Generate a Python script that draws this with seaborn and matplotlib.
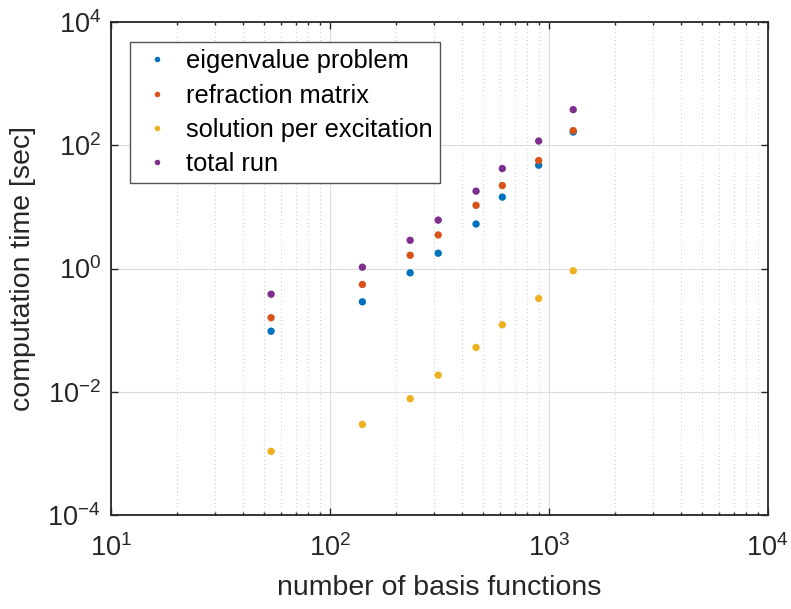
import matplotlib
matplotlib.use("Agg")
import matplotlib.pyplot as plt
import matplotlib.ticker as mticker
import seaborn as sns
import pandas as pd
import numpy as np

# ---- data ----
n_basis = [54, 141, 233, 313, 466, 614, 900, 1294]
eigenvalue = [0.096, 0.288, 0.85, 1.77, 5.27, 14.4, 47.5, 164]
refraction = [0.159, 0.55, 1.64, 3.5, 10.6, 22.2, 56.5, 173]
solution = [0.00108, 0.00295, 0.0077, 0.0186, 0.0524, 0.122, 0.326, 0.918]
total = [0.383, 1.05, 2.87, 6.1, 18.0, 41.9, 117, 378]

series_names = ["eigenvalue problem", "refraction matrix",
                "solution per excitation", "total run"]
series_vals = [eigenvalue, refraction, solution, total]
colors = ["#0072BD", "#D95319", "#EDB120", "#7E2F8E"]

rows = []
for name, vals in zip(series_names, series_vals):
    for x, y in zip(n_basis, vals):
        rows.append({"n": x, "t": y, "series": name})
df = pd.DataFrame(rows)

sns.set_theme(style="white")
txt = "#262626"
plt.rcParams.update({
    "font.family": ["Liberation Sans", "DejaVu Sans"],
    "mathtext.fontset": "custom",
    "mathtext.rm": "Liberation Sans",
    "mathtext.it": "Liberation Sans:italic",
    "mathtext.bf": "Liberation Sans:bold",
    "mathtext.default": "regular",
    "axes.unicode_minus": False,
    "text.color": txt,
    "axes.labelcolor": txt,
    "xtick.color": txt,
    "ytick.color": txt,
})

fig = plt.figure(figsize=(7.91, 6.09), dpi=100)
ax = fig.add_axes([110.7 / 791, (609 - 515) / 609, 657 / 791, 493 / 609])

sns.scatterplot(data=df, x="n", y="t", hue="series", hue_order=series_names,
                palette=colors, s=28, linewidth=0, ax=ax, zorder=3)

ax.set_xscale("log")
ax.set_yscale("log")
ax.set_xlim(10, 1e4)
ax.set_ylim(1e-4, 1e4)

ax.xaxis.set_major_locator(mticker.LogLocator(base=10, numticks=10))
ax.xaxis.set_minor_locator(mticker.LogLocator(base=10, subs=np.arange(2, 10), numticks=20))
ax.xaxis.set_minor_formatter(mticker.NullFormatter())
ax.yaxis.set_major_locator(mticker.FixedLocator([1e-4, 1e-2, 1e0, 1e2, 1e4]))
ax.yaxis.set_major_formatter(mticker.LogFormatterSciNotation())
ax.yaxis.set_minor_locator(mticker.NullLocator())

ax.grid(True, which="major", color="#dcdcdc", linewidth=0.8, linestyle="-")
ax.grid(True, which="minor", axis="x", color="#c8c8c8", linewidth=0.7, linestyle=(0, (1, 3)))
ax.set_axisbelow(True)

for sp in ax.spines.values():
    sp.set_visible(True)
    sp.set_color(txt)
    sp.set_linewidth(1.3)

ax.tick_params(which="both", direction="in", top=True, right=True,
               bottom=True, left=True, color=txt, width=1.0)
ax.tick_params(which="major", length=5, labelsize=19.5)
ax.tick_params(which="minor", length=2.5)
ax.tick_params(axis="x", which="major", pad=14)
ax.tick_params(axis="y", which="major", pad=7)

ax.set_xlabel("number of basis functions", fontsize=20.5, labelpad=9)
ax.set_ylabel("computation time [sec]", fontsize=20.5, labelpad=8)

handles, labels = ax.get_legend_handles_labels()
leg = ax.legend(handles, labels, loc="upper left", bbox_to_anchor=(0.0294, 0.960),
                borderaxespad=0, fontsize=18.3, frameon=True, fancybox=False,
                framealpha=1, edgecolor="#555555", borderpad=0.3,
                handlelength=1.5, handletextpad=0.39, labelspacing=0.4,
                markerscale=0.75, title=None)
leg.get_frame().set_linewidth(1.0)
for t in leg.get_texts():
    t.set_color("black")

fig.savefig("out.png", dpi=100)
